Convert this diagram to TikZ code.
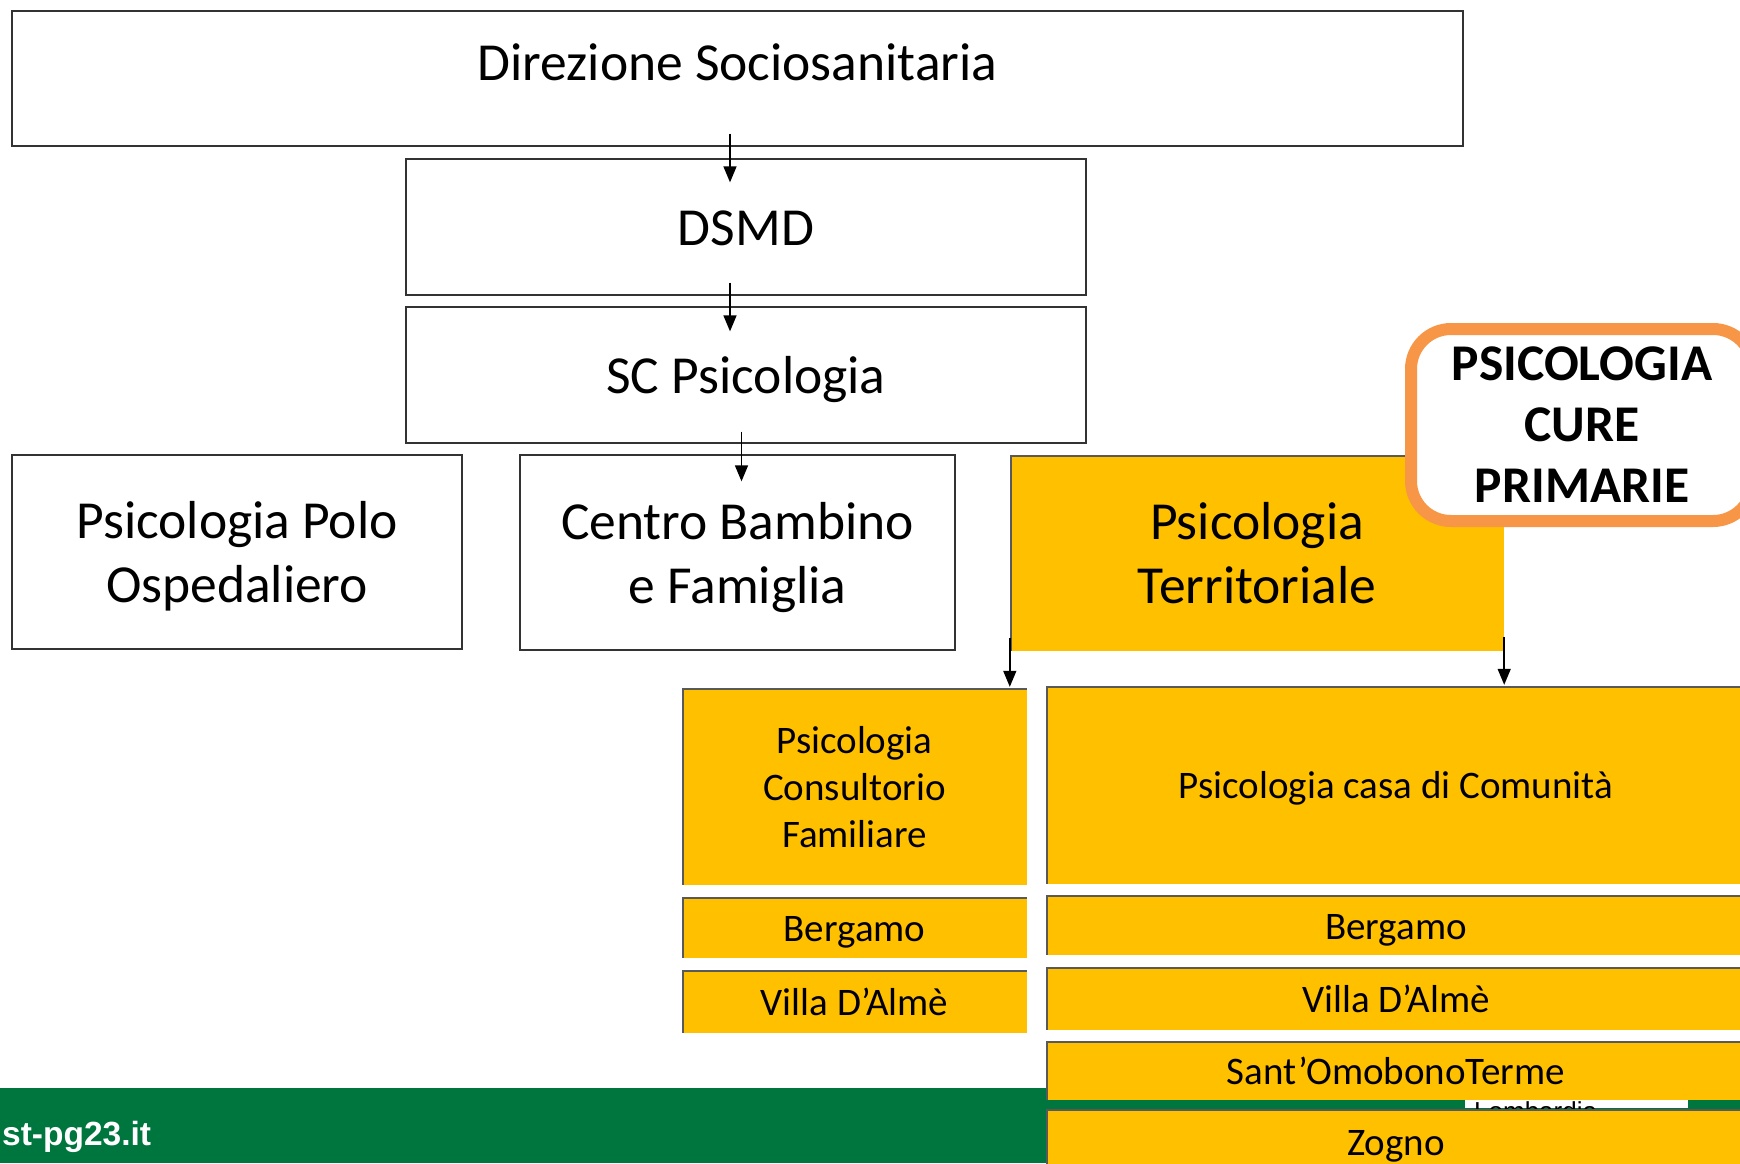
\documentclass[tikz,border=0pt]{standalone}
\usepackage{fontspec}
\setmainfont{Carlito}
\newfontfamily\webfont{Liberation Sans}
\usetikzlibrary{arrows.meta,positioning}
\definecolor{gold}{HTML}{FFC000}
\definecolor{cureorange}{HTML}{F79646}
\definecolor{asstgreen}{HTML}{00763F}
% fixed line box: top of first line, bottom of last line
\newcommand\linetop{\rule{0pt}{1em}}
\newcommand\linebot{\rule[-0.3em]{0pt}{0.3em}}

\begin{document}
\begin{tikzpicture}[x=1pt,y=-1pt,node distance=12pt,
	wbox/.style={draw=black!80,line width=1.3pt,fill=white,align=center,inner sep=0pt},
	gbox/.style={fill=gold,align=center,inner sep=0pt,
		path picture={\draw[black!65,line width=3pt] (path picture bounding box.south west) -- (path picture bounding box.north west) -- (path picture bounding box.north east);}},
	big/.style={font=\fontsize{53.5}{64}\selectfont},
	small/.style={font=\fontsize{39}{47}\selectfont},
	arr/.style={-{Triangle[length=16pt,width=13pt]},line width=1.5pt}]
	\clip (0,0) rectangle (1740,1163);
	\fill[white] (0,0) rectangle (1740,1163);
	% footer
	\fill[asstgreen] (0,1088) rectangle (1740,1163);
	\node[anchor=base west,inner sep=0pt,text=white,font=\webfont\bfseries\fontsize{33.5}{38}\selectfont] (web) at (2,1145) {st-pg23.it};
	\begin{scope}
		\clip (1465,1099) rectangle (1688,1108);
		\fill[white] (1465,1099) rectangle (1688,1108);
		\node[anchor=north west,inner sep=0pt,font=\webfont\fontsize{26}{30}\selectfont] (lomb) at (1474,1101) {Lombardia};
	\end{scope}
	% upper levels
	\node[wbox,minimum width=1451pt,minimum height=135pt] (dir) at (737.5,78.5) {};
	\node[big,anchor=base,inner sep=0pt] (dirtext) at (737.5,80) {Direzione Sociosanitaria};
	\node[wbox,big,minimum width=680pt,minimum height=136pt] (dsmd) at (746,227) {\linetop DSMD\linebot};
	\node[wbox,big,minimum width=680pt,minimum height=136pt] (scpsi) at (746,375) {\linetop SC Psicologia\linebot};
	\node[wbox,big,minimum width=450pt,minimum height=194pt] (polo) at (237,552) {\linetop Psicologia Polo\\Ospedaliero\linebot};
	\node[wbox,big,minimum width=435pt,minimum height=195pt] (cbf) at (737.5,552.5) {\linetop Centro Bambino\\e Famiglia\linebot};
	\node[gbox,big,minimum width=494pt,minimum height=196pt] (terr) at (1257,553) {\linetop Psicologia\\Territoriale\linebot};
	\node[draw=cureorange,line width=12pt,rounded corners=40pt,fill=white,align=center,
		minimum width=342pt,minimum height=192pt,font=\bfseries\fontsize{51.5}{61}\selectfont] (cure) at (1582,425) {PSICOLOGIA\\CURE\\PRIMARIE};
	% consultorio
	\node[gbox,small,minimum width=345pt,minimum height=197pt] (cons) at (854.5,786.5) {\linetop Psicologia\\Consultorio\\Familiare\linebot};
	\node[gbox,small,minimum width=345pt,minimum height=61pt,below=of cons] (berg1) {\linetop Bergamo\linebot};
	\node[gbox,small,minimum width=345pt,minimum height=62pt,below=of berg1] (villa1) {\linetop Villa D’Almè\linebot};
	% casa di comunita
	\node[gbox,small,minimum width=700pt,minimum height=198pt] (casa) at (1396,785) {\linetop Psicologia casa di Comunità\linebot};
	\node[gbox,small,minimum width=700pt,minimum height=60pt,below=11pt of casa] (berg2) {\linetop Bergamo\linebot};
	\node[gbox,small,minimum width=700pt,minimum height=62pt,below=of berg2] (villa2) {\linetop Villa D’Almè\linebot};
	\node[gbox,small,minimum width=700pt,minimum height=59pt,below=11pt of villa2] (sant) {\linetop Sant’OmobonoTerme\linebot};
	\node[gbox,small,minimum width=700pt,minimum height=64pt,below=9pt of sant] (zogno) {\linetop Zogno\linebot};
	% arrows
	\draw[arr,shorten <=-13pt,shorten >=-24pt] ([xshift=-7.5pt]dir.south) -- ([xshift=-16pt]dsmd.north);
	\draw[arr,shorten <=-13pt,shorten >=-25pt] ([xshift=-16pt]dsmd.south) -- ([xshift=-16pt]scpsi.north);
	\draw[arr,shorten <=-12pt,shorten >=-27pt] ([xshift=-4.5pt]scpsi.south) -- ([xshift=4pt]cbf.north);
	\draw[arr,shorten <=-13pt,shorten >=1pt] (terr.south west) -- (terr.south west |- cons.north);
	\draw[arr,shorten <=-14pt,shorten >=1pt] (terr.south east) -- (terr.south east |- casa.north);
\end{tikzpicture}
\end{document}
